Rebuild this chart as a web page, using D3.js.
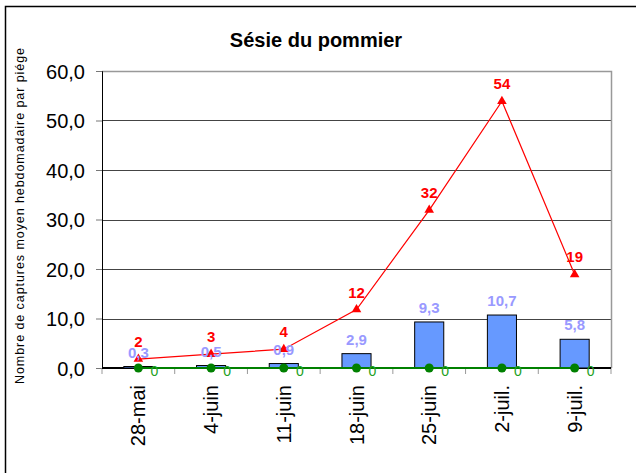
<!DOCTYPE html>
<html>
<head>
<meta charset="utf-8">
<script src="https://cdn.jsdelivr.net/npm/d3@7"></script>
<style>
  body { margin: 0; background: #fff; }
  svg { font-family: Arial, "Liberation Sans", sans-serif; }
</style>
</head>
<body>
<div id="chart"></div>
<script>
var categories = ['28-mai', '4-juin', '11-juin', '18-juin', '25-juin', '2-juil.', '9-juil.'];
var barValues = [0.3, 0.5, 0.9, 2.9, 9.3, 10.7, 5.8];
var redValues = [1.8, 2.8, 3.8, 11.8, 31.9, 53.9, 18.9];
var greenValues = [0, 0, 0, 0, 0, 0, 0];
var yTicks = [0, 10, 20, 30, 40, 50, 60];

var width = 636, height = 473;
var margin = {left: 102, right: 25, top: 71, bottom: 105};
var w = width - margin.left - margin.right;
var h = height - margin.top - margin.bottom;

var svg = d3.select('#chart').append('svg')
    .attr('width', width)
    .attr('height', height);

// cadre
svg.append('rect')
    .attr('x', 5.5).attr('y', 6.5)
    .attr('width', 700).attr('height', 600)
    .attr('fill', 'none')
    .attr('stroke', '#000')
    .attr('stroke-width', 1.5);

svg.append('text')
    .attr('x', 316).attr('y', 47)
    .attr('text-anchor', 'middle')
    .style('font-size', '20px')
    .style('font-weight', 'bold')
    .text('Sésie du pommier');

var g = svg.append('g')
    .attr('transform', 'translate(' + margin.left + ',' + margin.top + ')');

var x = d3.scaleBand().domain(categories).range([0, w]);
var y = d3.scaleLinear().domain([0, 60]).range([h, 0]);
var fmt1 = function(v) { return d3.format('.1f')(v).replace('.', ','); };

// grille
g.selectAll('.grid')
    .data(yTicks.filter(function(d) { return d > 0 && d < 60; }))
    .enter().append('line')
    .attr('x1', 0).attr('x2', w)
    .attr('y1', function(d) { return Math.round(y(d)) + 0.5; })
    .attr('y2', function(d) { return Math.round(y(d)) + 0.5; })
    .attr('stroke', '#444');

// bord du graphique (haut + droite)
g.append('path')
    .attr('d', 'M0,' + (y(60) + 0.5) + 'H' + (w + 0.5) + 'V' + h)
    .attr('fill', 'none')
    .attr('stroke', '#999')
    .attr('stroke-width', 1.5);

// axe y
var yAxis = g.append('g')
    .call(d3.axisLeft(y).tickValues(yTicks).tickFormat(fmt1).tickSizeOuter(0).tickSize(6));
yAxis.select('.domain').attr('stroke', '#000');
yAxis.selectAll('.tick line').attr('stroke', '#777');
yAxis.selectAll('text')
    .style('font-size', '20px')
    .attr('x', -17)
    .attr('dy', '0.36em')
    .attr('fill', '#000');

// axe x (graduations aux limites des catégories)
var bounds = d3.range(categories.length + 1).map(function(i) { return i * x.bandwidth(); });
g.selectAll('.xtick')
    .data(bounds)
    .enter().append('line')
    .attr('x1', function(d) { return d; }).attr('x2', function(d) { return d; })
    .attr('y1', h).attr('y2', h + 6)
    .attr('stroke', '#999');

g.append('line')
    .attr('x1', 0).attr('x2', w)
    .attr('y1', h).attr('y2', h)
    .attr('stroke', '#000')
    .attr('stroke-width', 2);

g.selectAll('.xlab')
    .data(categories)
    .enter().append('text')
    .attr('transform', function(d) {
      return 'translate(' + (x(d) + x.bandwidth() / 2 + 7) + ',' + (h + 17) + ') rotate(-90)';
    })
    .attr('text-anchor', 'end')
    .style('font-size', '20px')
    .text(function(d) { return d; });

// barres
var bw = x.bandwidth() * 0.4;
g.selectAll('.bar')
    .data(barValues)
    .enter().append('rect')
    .attr('x', function(d, i) { return x(categories[i]) + (x.bandwidth() - bw) / 2; })
    .attr('y', function(d) { return y(d); })
    .attr('width', bw)
    .attr('height', function(d) { return h - y(d); })
    .attr('fill', '#6699ff')
    .attr('stroke', '#000')
    .attr('stroke-width', 1);

// série verte
var cx = function(d, i) { return x(categories[i]) + x.bandwidth() / 2; };
var greenLine = d3.line().x(cx).y(function(d) { return y(d); });
g.append('path')
    .datum(greenValues)
    .attr('d', greenLine)
    .attr('fill', 'none')
    .attr('stroke', '#008000')
    .attr('stroke-width', 2);
g.selectAll('.gdot')
    .data(greenValues)
    .enter().append('circle')
    .attr('cx', cx)
    .attr('cy', function(d) { return y(d); })
    .attr('r', 4.5)
    .attr('fill', '#008000');

// série rouge
var redLine = d3.line().x(cx).y(function(d) { return y(d); });
g.append('path')
    .datum(redValues)
    .attr('d', redLine)
    .attr('fill', 'none')
    .attr('stroke', '#ff0000')
    .attr('stroke-width', 1.2);
var tri = d3.symbol().type(d3.symbolTriangle).size(40);
g.selectAll('.rtri')
    .data(redValues)
    .enter().append('path')
    .attr('d', tri)
    .attr('transform', function(d, i) { return 'translate(' + cx(d, i) + ',' + y(d) + ')'; })
    .attr('fill', '#ff0000');

// étiquettes
g.selectAll('.blab')
    .data(barValues)
    .enter().append('text')
    .attr('x', cx)
    .attr('y', function(d) { return y(d) - 9; })
    .attr('text-anchor', 'middle')
    .style('font-size', '15px')
    .style('font-weight', 'bold')
    .attr('fill', '#9999ff')
    .text(fmt1);

g.selectAll('.rlab')
    .data(redValues)
    .enter().append('text')
    .attr('x', cx)
    .attr('y', function(d) { return y(d) - 12; })
    .attr('text-anchor', 'middle')
    .style('font-size', '15px')
    .style('font-weight', 'bold')
    .attr('fill', '#ff0000')
    .text(function(d) { return d3.format('.0f')(d); });

g.selectAll('.glab')
    .data(greenValues)
    .enter().append('text')
    .attr('x', function(d, i) { return cx(d, i) + 16; })
    .attr('y', function(d) { return y(d) + 8; })
    .attr('text-anchor', 'middle')
    .style('font-size', '14px')
    .attr('fill', '#22a022')
    .text(function(d) { return d3.format('.0f')(d); });

// titre axe y
svg.append('text')
    .attr('transform', 'translate(24,216) rotate(-90)')
    .attr('text-anchor', 'middle')
    .attr('textLength', 336)
    .attr('lengthAdjust', 'spacing')
    .style('font-size', '12.5px')
    .text('Nombre de captures moyen hebdomadaire par piége');
</script>
</body>
</html>
